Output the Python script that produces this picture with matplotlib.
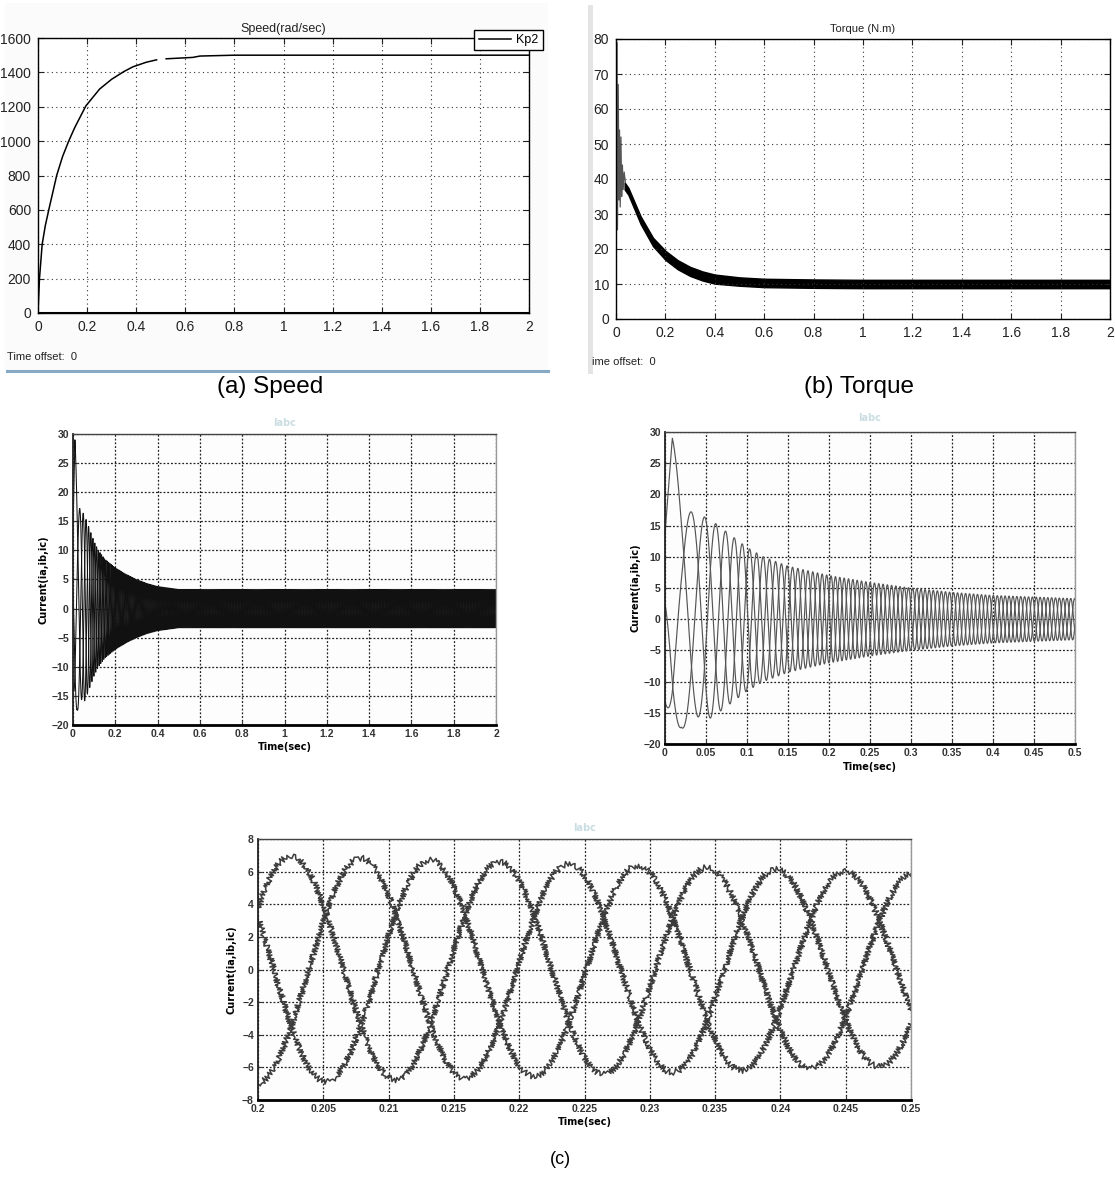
import numpy as np
import matplotlib
matplotlib.use("Agg")
import matplotlib.pyplot as plt
from matplotlib.lines import Line2D
from matplotlib.patches import Rectangle

W, H = 1115, 1182

# ---------------- data ----------------
# (a) speed
speed_t = [0, 0.006, 0.017, 0.03, 0.047, 0.06, 0.076, 0.1, 0.125, 0.15, 0.195, 0.251, 0.3,
           0.35, 0.386, 0.441, 0.483, np.nan, 0.522, 0.63, 0.66, 0.8, 1.0, 1.5, 2.0]
speed_v = [0, 200, 400, 510, 620, 700, 800, 910, 1000, 1080, 1205, 1303, 1360,
           1405, 1432, 1459, 1473, np.nan, 1479, 1487, 1495, 1500, 1500, 1500, 1500]
speed_ref_t = [0, 2]
speed_ref_v = [0, 0]
speed_xticks = [0, 0.2, 0.4, 0.6, 0.8, 1, 1.2, 1.4, 1.6, 1.8, 2]
speed_xlabels = ["0", "0.2", "0.4", "0.6", "0.8", "1", "1.2", "1.4", "1.6", "1.8", "2"]
speed_yticks = [0, 200, 400, 600, 800, 1000, 1200, 1400, 1600]

# (b) torque: start-up spikes, then a noisy band (mean +/- half width)
torque_spike_t = [0, 0.003, 0.006, 0.009, 0.012, 0.014, 0.017, 0.020, 0.023, 0.026, 0.029, 0.033, 0.038]
torque_spike_v = [0, 79, 25.5, 67, 34, 54, 32, 52, 35, 44, 37, 42, 39]
torque_band_t = [0.035, 0.05, 0.1, 0.15, 0.2, 0.25, 0.3, 0.35, 0.4, 0.5, 0.6, 0.8, 1.0, 1.5, 2.0]
torque_mean = [38, 36.5, 28.2, 22, 18.2, 15.5, 13.6, 12.3, 11.4, 10.7, 10.3, 10.1, 10, 10, 10]
torque_half = [1.0, 1.0, 1.1, 1.2, 1.3, 1.3, 1.3, 1.3, 1.3, 1.2, 1.2, 1.2, 1.2, 1.2, 1.2]
torque_yticks = [0, 10, 20, 30, 40, 50, 60, 70, 80]

# (c) three-phase stator currents: amplitude envelope, first-lobe offset, frequency
curr_env_t = [0, 0.009, 0.02, 0.04, 0.06, 0.08, 0.1, 0.12, 0.15, 0.2, 0.25, 0.3, 0.35, 0.4, 0.5, 2.0]
curr_amp = [14, 22, 17.5, 17, 15.5, 13.5, 11.5, 10, 8.5, 7.0, 5.9, 5.0, 4.3, 3.8, 3.3, 3.3]
curr_off_t = [0, 0.009, 0.03, 0.06]
curr_off = [3, 7, 2, 0]
curr_freq_t = [0, 0.02, 0.045, 0.07, 0.09, 0.1, 0.15, 0.2, 0.26, 0.35, 0.5, 2.0]
curr_freq = [11, 15, 22, 29, 35, 38, 50, 62.5, 63.5, 68, 72, 72]
first_peak_time = 0.0094      # big first lobe (29 A) in the 0-0.5 s plot
late_peak_time = 0.20255      # a positive peak in the 0.2-0.25 s plot
curr_yticks = [-20, -15, -10, -5, 0, 5, 10, 15, 20, 25, 30]
zoom_yticks = [-8, -6, -4, -2, 0, 2, 4, 6, 8]
zoom_xticks = [0.2, 0.205, 0.21, 0.215, 0.22, 0.225, 0.23, 0.235, 0.24, 0.245, 0.25]

# ---------------- build current waveforms ----------------
t = np.linspace(0, 2, 200001)
f = np.interp(t, curr_freq_t, curr_freq)
theta = 2 * np.pi * np.concatenate([[0], np.cumsum((f[1:] + f[:-1]) / 2 * np.diff(t))])
th1 = np.interp(first_peak_time, t, theta)
th2 = np.interp(late_peak_time, t, theta)
step = 2 * np.pi / 3
d = (th2 - th1) % step
delta = -d if d < step / 2 else step - d
frac = np.clip((t - first_peak_time) / (late_peak_time - first_peak_time), 0, 1)
theta = theta - th1 + delta * frac
amp = np.interp(t, curr_env_t, curr_amp)
off = np.interp(t, curr_off_t, curr_off)
phases = []
for k in range(3):
    y = amp * np.cos(theta - step * k)
    if k == 0:
        y = y + off
    phases.append(y)

# ---------------- figure ----------------
fig = plt.figure(figsize=(W / 100, H / 100), dpi=100)
fig.patch.set_facecolor("white")
NARROW = ["Liberation Sans Narrow", "Liberation Sans", "DejaVu Sans"]
SANS = ["Liberation Sans", "DejaVu Sans"]


def box(x0, y0, x1, y1):
    return [x0 / W, 1 - y1 / H, (x1 - x0) / W, (y1 - y0) / H]


def ftext(x, y, s, **kw):
    fig.text(x / W, 1 - y / H, s, **kw)


# screenshot decorations
fig.add_artist(Rectangle((5 / W, 1 - 370 / H), 543 / W, 367 / H, transform=fig.transFigure,
                         facecolor="#fbfbfb", edgecolor="none", zorder=-5))
fig.add_artist(Line2D([7 / W, 548 / W], [1 - 371 / H] * 2, transform=fig.transFigure,
                      color="#86a9c6", lw=2.2))
fig.add_artist(Rectangle((588 / W, 1 - 374 / H), 5 / W, 369 / H, transform=fig.transFigure,
                         facecolor="#e4e4e4", edgecolor="none"))


def scope_style(ax):
    ax.set_facecolor("white")
    for s in ax.spines.values():
        s.set_color("black")
        s.set_linewidth(1.0)
    ax.tick_params(direction="in", length=4, width=0.8, top=True, right=True,
                   labelsize=10, colors="#222222", pad=5)
    for lab in ax.get_xticklabels() + ax.get_yticklabels():
        lab.set_family(NARROW)
    ax.grid(True, linestyle=(0, (1, 3)), color="#333333", linewidth=0.8)


# ---- (a) speed ----
ax1 = fig.add_axes(box(38, 38, 529, 313))
ax1.plot(speed_ref_t, speed_ref_v, color="black", lw=2.2)
ln, = ax1.plot(speed_t, speed_v, color="black", lw=1.1, label="Kp2")
ax1.set_xlim(0, 2)
ax1.set_ylim(0, 1600)
ax1.set_xticks(speed_xticks)
ax1.set_xticklabels(speed_xlabels)
ax1.set_yticks(speed_yticks)
scope_style(ax1)
ax1.set_title("Speed(rad/sec)", fontsize=9, family=NARROW, pad=4, color="#222222")
leg = ax1.legend(handles=[ln], loc="center", bbox_to_anchor=(508.5 / W, 1 - 40 / H),
                 bbox_transform=fig.transFigure, fancybox=False, framealpha=1,
                 edgecolor="black", handlelength=2.6, borderpad=0.35, handletextpad=0.4,
                 prop={"family": NARROW, "size": 9})
leg.get_frame().set_linewidth(1.0)
ftext(7, 357, "Time offset:  0", fontsize=8, family=NARROW, va="center", color="#222222")
ftext(270, 387, "(a) Speed", fontsize=17.5, family=SANS, ha="center", va="center")

# ---- (b) torque ----
ax2 = fig.add_axes(box(616, 39, 1110, 319))
ax2.plot(torque_spike_t, torque_spike_v, color="#555555", lw=0.9)
band = ax2.fill_between(torque_band_t,
                        np.array(torque_mean) - np.array(torque_half),
                        np.array(torque_mean) + np.array(torque_half),
                        color="black", lw=1.0)
band.set_sketch_params(1.5, 1.5, 2.0)
ax2.set_xlim(0, 2)
ax2.set_ylim(0, 80)
ax2.set_xticks(speed_xticks)
ax2.set_xticklabels(speed_xlabels)
ax2.set_yticks(torque_yticks)
scope_style(ax2)
ax2.set_title("Torque (N.m)", fontsize=8, family=NARROW, pad=5, color="#222222")
ftext(592, 362, "ime offset:  0", fontsize=8, family=NARROW, va="center", color="#222222")
ftext(859, 387, "(b) Torque", fontsize=17.5, family=SANS, ha="center", va="center")


def matlab_style(ax):
    ax.set_facecolor("#fdfdfd")
    ax.spines["bottom"].set_linewidth(2.0)
    ax.spines["bottom"].set_color("black")
    ax.spines["left"].set_linewidth(1.3)
    ax.spines["left"].set_color("#222222")
    ax.spines["top"].set_linewidth(1.0)
    ax.spines["top"].set_color("#444444")
    ax.spines["right"].set_linewidth(1.0)
    ax.spines["right"].set_color("#999999")
    ax.tick_params(direction="in", length=3, width=0.8, labelsize=7.5, colors="#333333", pad=3)
    for lab in ax.get_xticklabels() + ax.get_yticklabels():
        lab.set_fontweight("bold")
        lab.set_family(SANS)
    ax.grid(True, linestyle=(0, (1.5, 1.5)), color="#222222", linewidth=0.9)


# ---- currents 0-2 s ----
ax3 = fig.add_axes(box(73, 434, 496, 725))
for y in phases:
    ax3.plot(t, y, color="#111111", lw=0.75)
ax3.set_xlim(0, 2)
ax3.set_ylim(-20, 30)
ax3.set_xticks(speed_xticks)
ax3.set_xticklabels(speed_xlabels)
ax3.set_yticks(curr_yticks)
matlab_style(ax3)
ax3.set_title("Iabc", fontsize=7, color="#c9dde2", fontweight="bold", pad=6)
ax3.set_ylabel("Current(ia,ib,ic)", fontsize=7, fontweight="bold", labelpad=2)
ax3.set_xlabel("Time(sec)", fontsize=7, fontweight="bold", labelpad=2)

# ---- currents 0-0.5 s ----
m = t <= 0.5
ax4 = fig.add_axes(box(665, 432, 1075, 744))
for y in phases:
    ax4.plot(t[m], y[m], color="#555555", lw=0.85)
ax4.set_xlim(0, 0.5)
ax4.set_ylim(-20, 30)
ax4.set_xticks([0, 0.05, 0.1, 0.15, 0.2, 0.25, 0.3, 0.35, 0.4, 0.45, 0.5])
ax4.set_xticklabels(["0", "0.05", "0.1", "0.15", "0.2", "0.25", "0.3", "0.35", "0.4", "0.45", "0.5"])
ax4.set_yticks(curr_yticks)
matlab_style(ax4)
ax4.set_title("Iabc", fontsize=7, color="#c9dde2", fontweight="bold", pad=8)
ax4.set_ylabel("Current(ia,ib,ic)", fontsize=7, fontweight="bold", labelpad=2)
ax4.set_xlabel("Time(sec)", fontsize=7, fontweight="bold", labelpad=3)

# ---- currents 0.2-0.25 s ----
m2 = (t >= 0.2) & (t <= 0.25)
ax5 = fig.add_axes(box(258, 839, 911, 1100))
for y in phases:
    l, = ax5.plot(t[m2], y[m2], color="#3c3c3c", lw=1.1)
    l.set_sketch_params(3.0, 2.5, 2.0)
ax5.set_xlim(0.2, 0.25)
ax5.set_ylim(-8, 8)
ax5.set_xticks(zoom_xticks)
ax5.set_xticklabels(["0.2", "0.205", "0.21", "0.215", "0.22", "0.225", "0.23", "0.235", "0.24", "0.245", "0.25"])
ax5.set_yticks(zoom_yticks)
matlab_style(ax5)
ax5.set_title("Iabc", fontsize=7, color="#c9dde2", fontweight="bold", pad=6)
ax5.set_ylabel("Current(ia,ib,ic)", fontsize=7, fontweight="bold", labelpad=4)
ax5.set_xlabel("Time(sec)", fontsize=7, fontweight="bold", labelpad=2)

ftext(560, 1160, "(c)", fontsize=13, family=SANS, ha="center", va="center")

fig.savefig("out.png", dpi=100)
